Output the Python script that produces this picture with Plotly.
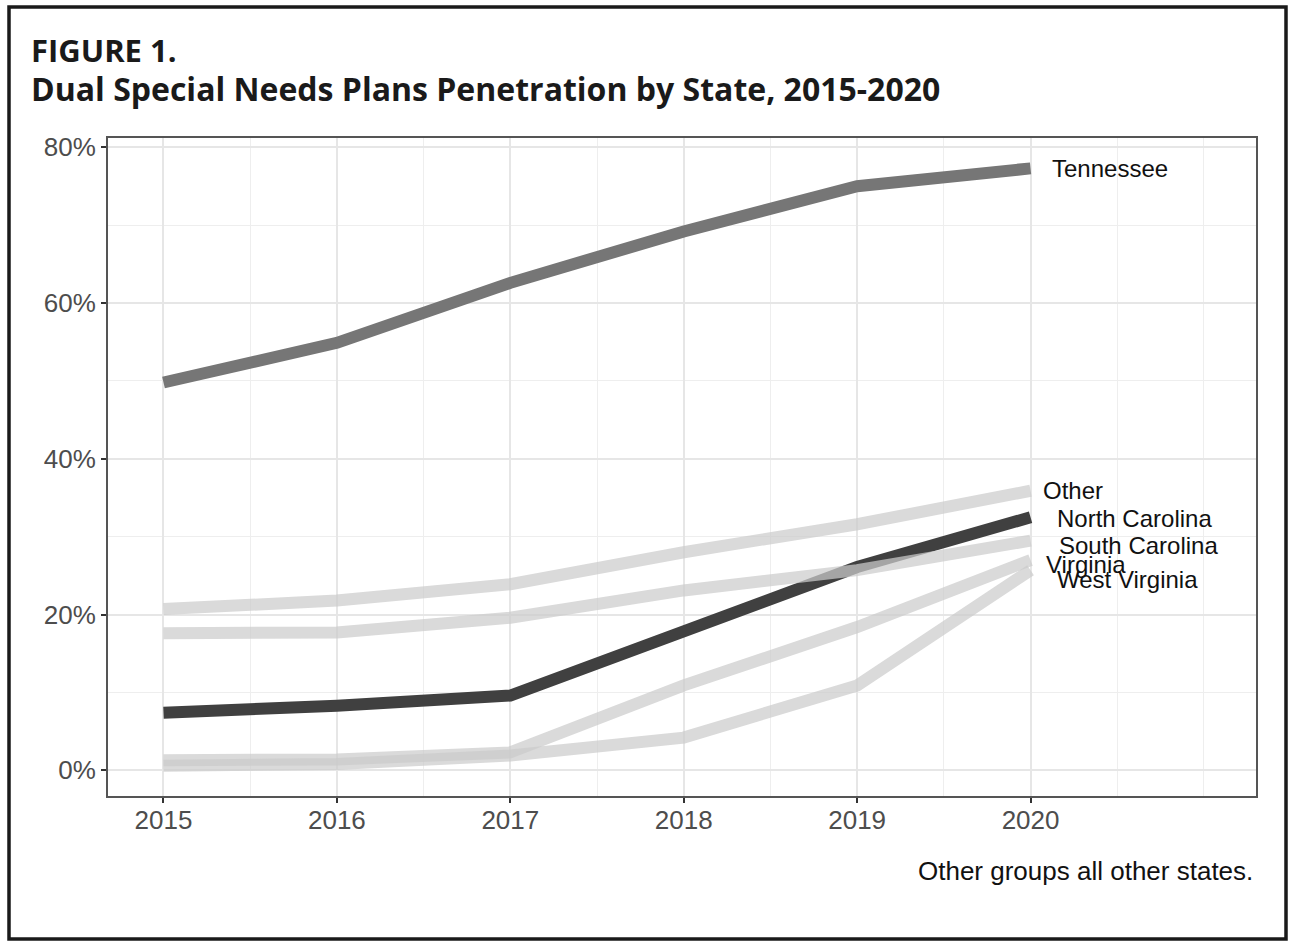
import plotly.graph_objects as go

years = [2015, 2016, 2017, 2018, 2019, 2020]
tennessee = [49.8, 54.9, 62.6, 69.2, 75.0, 77.3]
north_carolina = [7.4, 8.3, 9.6, 17.7, 26.1, 32.5]
other = [20.7, 21.8, 23.9, 28.0, 31.6, 35.9]
south_carolina = [17.6, 17.7, 19.6, 23.1, 25.7, 29.5]
virginia = [1.3, 1.4, 2.3, 10.9, 18.4, 27.0]
west_virginia = [0.6, 0.8, 1.9, 4.2, 10.9, 25.7]

y_ticks = [0, 20, 40, 60, 80]
y_tick_labels = ["0%", "20%", "40%", "60%", "80%"]

# plot area in pixels: left 108, right 1256, top 138, bottom 796
L, R, T, B = 108, 1256, 138, 796
W, H = 1299, 945

def px_x(p):
    return (p - L) / (R - L)

def px_y(p):
    return (B - p) / (B - T)

fig = go.Figure()

dark_series = [
    ("Tennessee", tennessee, "#767676"),
    ("North Carolina", north_carolina, "#404040"),
]
light_series = [
    ("Other", other),
    ("South Carolina", south_carolina),
    ("Virginia", virginia),
    ("West Virginia", west_virginia),
]

for name, vals, col in dark_series:
    fig.add_trace(go.Scatter(x=years, y=vals, mode="lines", name=name,
                             line=dict(color=col, width=12), showlegend=False))
for name, vals in light_series:
    fig.add_trace(go.Scatter(x=years, y=vals, mode="lines", name=name,
                             line=dict(color="rgb(204,204,204)", width=12),
                             opacity=0.72, showlegend=False))

# end labels (text, value series, xshift, yshift)
labels = [
    ("Tennessee", tennessee, 19, 0),
    ("Other", other, 10, 0),
    ("North Carolina", north_carolina, 24, -1),
    ("South Carolina", south_carolina, 26, -5),
    ("Virginia", virginia, 13, -4),
    ("West Virginia", west_virginia, 24, -9),
]
for txt, vals, xs, ys in labels:
    fig.add_annotation(x=years[-1], y=vals[-1], text=txt, showarrow=False,
                       xanchor="left", yanchor="middle", xshift=xs, yshift=ys,
                       font=dict(family="Liberation Sans", size=24, color="#111111"))

# titles
fig.add_annotation(xref="paper", yref="paper", x=px_x(29), y=px_y(50),
                   text="FIGURE 1.", showarrow=False, xanchor="left", yanchor="middle",
                   font=dict(family="Open Sans", size=31, color="#1a1a1a", weight=700))
fig.add_annotation(xref="paper", yref="paper", x=px_x(29), y=px_y(89),
                   text="Dual Special Needs Plans Penetration by State, 2015-2020",
                   showarrow=False, xanchor="left", yanchor="middle",
                   font=dict(family="Open Sans", size=32, color="#1a1a1a", weight=700))
# caption
fig.add_annotation(xref="paper", yref="paper", x=px_x(1255), y=px_y(871),
                   text="Other groups all other states.", showarrow=False,
                   xanchor="right", yanchor="middle",
                   font=dict(family="Liberation Sans", size=26, color="#111111"))

# outer border
fig.add_shape(type="rect", xref="paper", yref="paper",
              x0=px_x(9), x1=px_x(1286), y0=px_y(939), y1=px_y(7),
              line=dict(color="#1a1a1a", width=3.5), fillcolor="rgba(0,0,0,0)", layer="above")

fig.update_layout(
    width=W, height=H,
    margin=dict(l=L, r=W - R, t=T, b=H - B, pad=0),
    paper_bgcolor="white", plot_bgcolor="white",
    showlegend=False,
)

fig.update_xaxes(
    range=[2014.68, 2021.3], tickvals=years, ticktext=[str(y) for y in years],
    showgrid=True, gridcolor="#e6e6e6", gridwidth=1.6,
    minor=dict(tick0=2014.5, dtick=0.5, showgrid=True, gridcolor="#eeeeee", gridwidth=1.2),
    ticks="outside", ticklen=5, tickwidth=1.5, tickcolor="#333333",
    showline=True, mirror=True, linecolor="#555555", linewidth=1.8,
    zeroline=False, ticklabelstandoff=-5,
    tickfont=dict(family="Liberation Sans", size=26, color="#4d4d4d"),
)
fig.update_yaxes(
    range=[-3.3, 81.2], tickvals=y_ticks, ticktext=y_tick_labels,
    showgrid=True, gridcolor="#e6e6e6", gridwidth=1.6,
    minor=dict(tick0=0, dtick=10, showgrid=True, gridcolor="#eeeeee", gridwidth=1.2),
    ticks="outside", ticklen=5, tickwidth=1.5, tickcolor="#333333",
    showline=True, mirror=True, linecolor="#555555", linewidth=1.8,
    zeroline=False,
    tickfont=dict(family="Liberation Sans", size=26, color="#4d4d4d"),
)

fig.write_html("out.html", config={"displayModeBar": False},
               post_script="document.body.style.margin='0px';")
